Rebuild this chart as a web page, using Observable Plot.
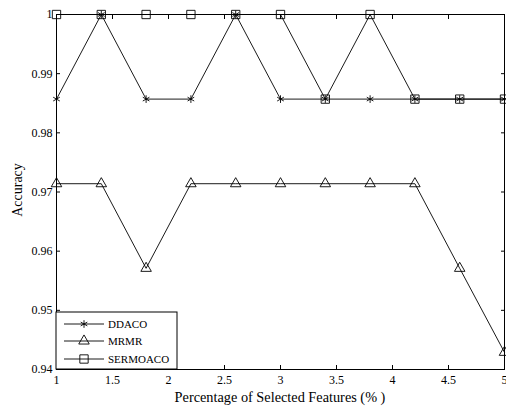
<!DOCTYPE html>
<html>
<head>
<meta charset="utf-8">
<script src="https://cdn.jsdelivr.net/npm/d3@7"></script>
<script src="https://cdn.jsdelivr.net/npm/@observablehq/plot@0.6"></script>
<style>
  html, body { margin: 0; padding: 0; background: white; }
</style>
</head>
<body>
<div id="chart"></div>
<script>
const xs = [1, 1.4, 1.8, 2.2, 2.6, 3, 3.4, 3.8, 4.2, 4.6, 5];
const ddaco = [0.9857, 1, 0.9857, 0.9857, 1, 0.9857, 0.9857, 0.9857, 0.9857, 0.9857, 0.9857];
const mrmr = [0.9714, 0.9714, 0.9571, 0.9714, 0.9714, 0.9714, 0.9714, 0.9714, 0.9714, 0.9571, 0.9429];
const sermoaco = [1, 1, 1, 1, 1, 1, 0.9857, 1, 0.9857, 0.9857, 0.9857];
const seriesNames = ["DDACO", "MRMR", "SERMOACO"];
const xTicks = [1, 1.5, 2, 2.5, 3, 3.5, 4, 4.5, 5];
const yTicks = [0.94, 0.95, 0.96, 0.97, 0.98, 0.99, 1];

const toRows = (vals) => xs.map((x, i) => ({x, y: vals[i]}));
const rD = toRows(ddaco), rM = toRows(mrmr), rS = toRows(sermoaco);

const font = '"Liberation Serif", "Times New Roman", serif';
const common = {stroke: "black", strokeWidth: 0.9};

const chart = Plot.plot({
  width: 506,
  height: 408,
  marginLeft: 56,
  marginRight: 2,
  marginTop: 14,
  marginBottom: 39,
  style: {fontFamily: font, fontSize: "12px", background: "white", color: "black", overflow: "visible"},
  x: {domain: [1, 5]},
  y: {domain: [0.94, 1]},
  marks: [
    Plot.lineY(rD, {x: "x", y: "y", ...common}),
    Plot.lineY(rM, {x: "x", y: "y", ...common}),
    Plot.lineY(rS, {x: "x", y: "y", ...common}),
    Plot.dot(rS, {x: "x", y: "y", symbol: "square", r: 4.7, fill: "none", stroke: "black", strokeWidth: 0.9}),
    Plot.dot(rM, {x: "x", y: "y", symbol: "triangle", r: 3.9, fill: "none", stroke: "black", strokeWidth: 0.9}),
    Plot.dot(rD, {x: "x", y: "y", symbol: "asterisk", r: 3.6, fill: "none", stroke: "black", strokeWidth: 0.9}),
    Plot.frame({stroke: "black", strokeWidth: 1}),
    Plot.axisX(xTicks, {anchor: "bottom", tickSize: 0, tickPadding: 6, tickFormat: d3.format("")}),
    Plot.axisX(xTicks, {anchor: "bottom", tickSize: -4, tickFormat: () => "", label: null}),
    Plot.axisX(xTicks, {anchor: "top", tickSize: -4, tickFormat: () => "", label: null}),
    Plot.axisY(yTicks, {anchor: "left", tickSize: 0, tickPadding: 4, tickFormat: d3.format("")}),
    Plot.axisY(yTicks, {anchor: "left", tickSize: -4, tickFormat: () => "", label: null}),
    Plot.axisY(yTicks, {anchor: "right", tickSize: -4, tickFormat: () => "", label: null})
  ]
});

document.getElementById("chart").appendChild(chart);

// Axis labels and legend
const svg = d3.select(chart);
svg.selectAll("[aria-label='x-axis label'], [aria-label='y-axis label']").remove();
svg.append("text")
  .attr("x", 280).attr("y", 402)
  .attr("text-anchor", "middle")
  .style("font-family", font).style("font-size", "14.3px")
  .text("Percentage of Selected Features (% )");
svg.append("text")
  .attr("transform", "translate(17,190) rotate(-90)")
  .attr("text-anchor", "middle")
  .attr("dy", "0.35em")
  .style("font-family", font).style("font-size", "14px")
  .text("Accuracy");

const lg = svg.append("g");
lg.append("rect").attr("x", 56).attr("y", 312).attr("width", 121).attr("height", 57)
  .attr("fill", "white").attr("stroke", "black").attr("stroke-width", 1);
const ly = [324, 341, 359];
const symbols = [d3.symbolAsterisk, d3.symbolTriangle, d3.symbolSquare];
const sizes = [3.6, 3.9, 4.7];
seriesNames.forEach((name, i) => {
  lg.append("line").attr("x1", 64).attr("x2", 104).attr("y1", ly[i]).attr("y2", ly[i])
    .attr("stroke", "black").attr("stroke-width", 0.9);
  lg.append("path").attr("d", d3.symbol(symbols[i], sizes[i] * sizes[i] * Math.PI)())
    .attr("transform", `translate(84,${ly[i]})`)
    .attr("fill", "none").attr("stroke", "black").attr("stroke-width", 0.9);
  lg.append("text").attr("x", 108).attr("y", ly[i]).attr("dy", "0.35em")
    .attr("text-anchor", "start")
    .style("font-family", font).style("font-size", "11px").text(name);
});
</script>
</body>
</html>
